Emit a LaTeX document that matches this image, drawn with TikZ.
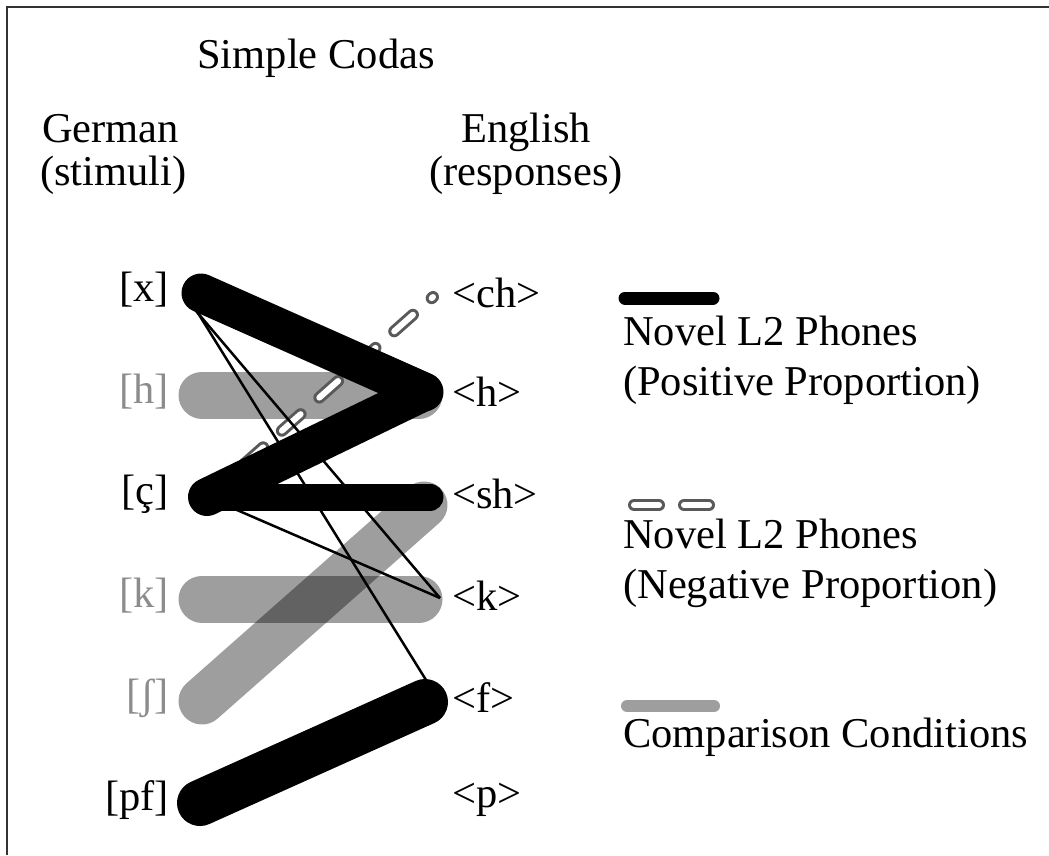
\documentclass[tikz,border=0pt]{standalone}
\usepackage{fontspec}
\setmainfont{Liberation Serif}
\usepackage{tikz}

\tikzset{
  txt/.style={font=\fontsize{42.5}{50}\selectfont, inner sep=0pt},
  dimtxt/.style={txt, text=black!45},
  novel/.style={line width=#1, line cap=round, black},
  cmp/.style={line width=47pt, line cap=round, black, opacity=0.38},
  thinln/.style={line width=2.5pt, black},
  negout/.style={line width=12pt, line cap=round, black!65, dash pattern=on 25pt off 25pt},
  negin/.style={line width=6pt, line cap=round, white, dash pattern=on 25pt off 25pt},
}

\begin{document}
\begin{tikzpicture}[x=1pt,y=-1pt]
   \useasboundingbox (0,0) rectangle (1049,855);
   \draw[line width=2.5pt, black!80] (7,855) -- (7,7) -- (1049,7);

   % German side
   \coordinate (gx) at (201,293);
   \coordinate (gh) at (202,395);
   \coordinate (gc) at (207,497);
   \coordinate (gk) at (202,599);
   \coordinate (gs) at (202,701);
   \coordinate (gpf) at (200,803);
   % English side
   \coordinate (ech) at (433,297);
   \coordinate (eh) at (424,392);
   \coordinate (esh) at (430,497);
   \coordinate (ek) at (440,598);
   \coordinate (ef) at (425,702);
   \coordinate (ep) at (425,803);

   % comparison
   \draw[cmp] (gh) -- (419,395);
   \draw[cmp] (gk) -- (419,599);
   \draw[cmp] (gs) -- (424,505);

   % negative
   \draw[negout] (gc) -- (ech);
   \draw[negin] (gc) -- (ech);

   % positive
   \draw[novel=39pt] (gx) -- (eh);
   \draw[novel=38pt] (gc) -- (eh);
   \draw[novel=27pt] (gc) -- (esh);
   \draw[novel=46pt] (gpf) -- (ef);

   \draw[thinln] ([shift={(-10,12)}]gx) -- (ek);
   \draw[thinln] ([shift={(-8,12)}]gx) -- ([shift={(6,-14)}]ef);
   \draw[thinln] (gc) -- (ek);

   % labels
   \node[txt, anchor=base] (title) at (316,68) {Simple Codas};
   \node[txt, anchor=base west] (de1) at (42,142) {German};
   \node[txt, anchor=base west] (de2) at (40,185) {(stimuli)};
   \node[txt, anchor=base] (en1) at (526,142) {English};
   \node[txt, anchor=base] (en2) at (526,185) {(responses)};

   \node[txt, anchor=east] (lx) at (169,290) {[x]};
   \node[dimtxt, anchor=east] (lh) at (169,392) {[h]};
   \node[txt, anchor=east] (lc) at (169,494) {[ç]};
   \node[dimtxt, anchor=east] (lk) at (169,596) {[k]};
   \node[dimtxt, anchor=east] (ls) at (169,698) {[ʃ]};
   \node[txt, anchor=east] (lpf) at (169,800) {[pf]};

   \node[txt, anchor=west] (rch) at (452,293) {<ch>};
   \node[txt, anchor=west] (rh) at (452,392) {<h>};
   \node[txt, anchor=west] (rsh) at (452,494) {<sh>};
   \node[txt, anchor=west] (rk) at (452,596) {<k>};
   \node[txt, anchor=west] (rf) at (452,698) {<f>};
   \node[txt, anchor=west] (rp) at (452,800) {<p>};

   % legend
   \coordinate (pa) at (625,298);
   \coordinate (pb) at (713,298);
   \draw[novel=13pt] (pa) -- (pb);
   \node[txt, anchor=base west] (pos1) at (623,345) {Novel L2 Phones};
   \node[txt, anchor=base west] (pos2) at (623,395) {(Positive Proportion)};

   \coordinate (na) at (634,505);
   \coordinate (nb) at (711,505);
   \draw[negout] (na) -- (nb);
   \draw[negin] (na) -- (nb);
   \node[txt, anchor=base west] (neg1) at (623,548) {Novel L2 Phones};
   \node[txt, anchor=base west] (neg2) at (623,598) {(Negative Proportion)};

   \coordinate (ca) at (627,706);
   \coordinate (cb) at (714,706);
   \draw[cmp, line width=12pt] (ca) -- (cb);
   \node[txt, anchor=base west] (cmp1) at (623,747) {Comparison Conditions};
\end{tikzpicture}
\end{document}
